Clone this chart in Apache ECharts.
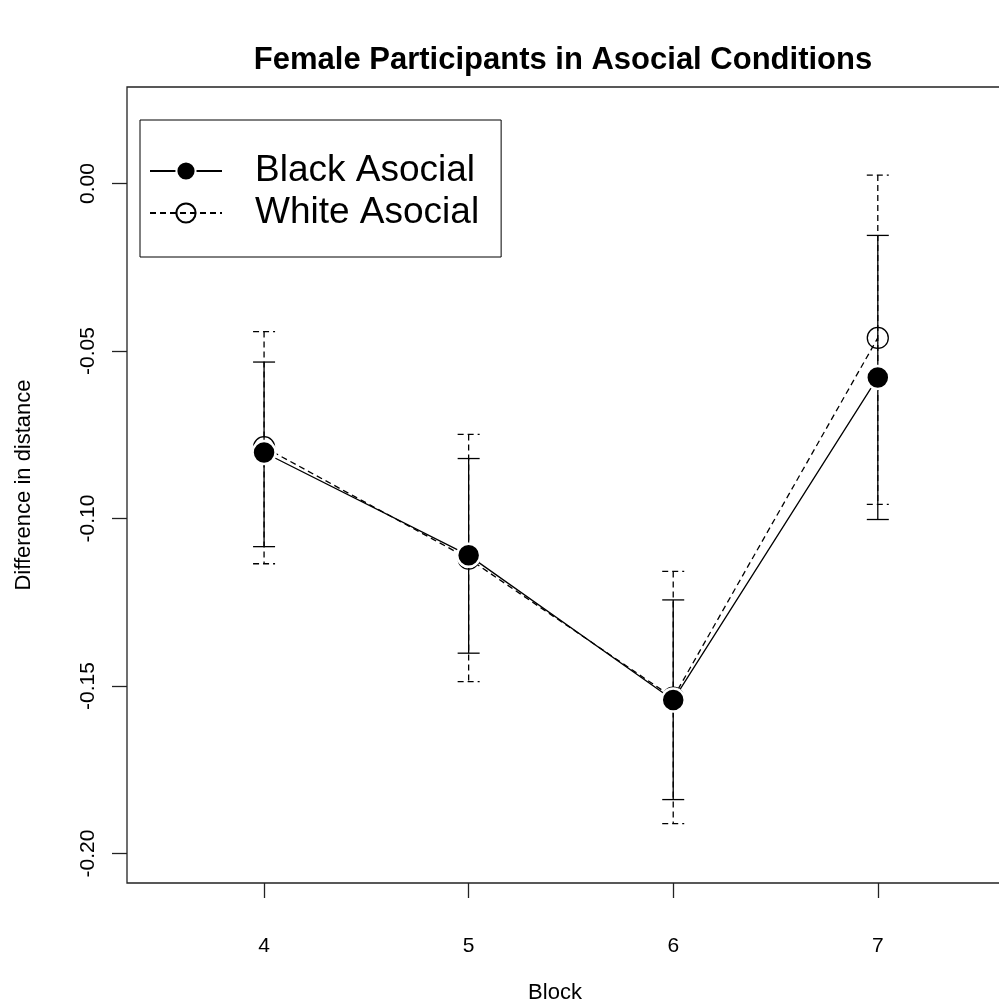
<!DOCTYPE html>
<html>
<head>
<meta charset="utf-8">
<script src="https://cdn.jsdelivr.net/npm/echarts@6/dist/echarts.min.js"></script>
<style>
  html, body { margin: 0; padding: 0; background: #fff; }
  #chart { width: 999px; height: 1007px; }
</style>
</head>
<body>
<div id="chart"></div>
<script>
// 数据
const blocks     = [4, 5, 6, 7]
const blackMean  = [-0.0803, -0.1110, -0.1542, -0.0579]
const blackLow   = [-0.1084, -0.1402, -0.1839, -0.1003]
const blackHigh  = [-0.0533, -0.0821, -0.1243, -0.0155]
const whiteMean  = [-0.0787, -0.1120, -0.1535, -0.0461]
const whiteLow   = [-0.1135, -0.1487, -0.1911, -0.0958]
const whiteHigh  = [-0.0442, -0.0749, -0.1158,  0.0025]
const yTicks     = [-0.20, -0.15, -0.10, -0.05, 0.00]

!function(){

    const font = 'Liberation Sans, Arial, sans-serif'
    let chart  = echarts.init(document.getElementById('chart'))

    // 误差线
    const errorBars = (dash) => (params, api) => {
        let x  = api.value(0)
        let lo = api.coord([x, api.value(1)])
        let hi = api.coord([x, api.value(2)])
        let w  = 11
        let style = { stroke: '#000', lineWidth: 1.3, lineDash: dash }
        return {
            type: 'group',
            children: [
                { type: 'line', shape: { x1: hi[0], y1: hi[1], x2: lo[0], y2: lo[1] }, style },
                { type: 'line', shape: { x1: hi[0] - w, y1: hi[1], x2: hi[0] + w, y2: hi[1] }, style },
                { type: 'line', shape: { x1: lo[0] - w, y1: lo[1], x2: lo[0] + w, y2: lo[1] }, style },
            ]
        }
    }

    let option = {
        animation: false,
        backgroundColor: '#fff',
        textStyle: { fontFamily: font },
        title: [
            {
                text: 'Female Participants in Asocial Conditions',
                left: 563, top: 45, padding: 0, textAlign: 'center',
                textStyle: { fontFamily: font, fontSize: 31, fontWeight: 'bold', color: '#000' }
            },
            {
                text: 'Block',
                left: 555, top: 982, padding: 0, textAlign: 'center',
                textStyle: { fontFamily: font, fontSize: 22, fontWeight: 'normal', color: '#000' }
            }
        ],
        legend: {
            orient: 'vertical',
            left: 140, top: 120,
            padding: [30, 22, 23, 9],
            itemGap: 0,
            itemWidth: 72, itemHeight: 24,
            borderColor: '#000', borderWidth: 1,
            textStyle: { fontFamily: font, fontSize: 37, color: '#000', lineHeight: 42, padding: [0, 0, 0, 28] },
            data: ['Black Asocial', 'White Asocial']
        },
        grid: {
            show: true, left: 127, top: 87, width: 894, height: 796,
            borderColor: '#222', borderWidth: 1.3,
            outerBoundsMode: 'none'
        },
        xAxis: {
            type: 'value', min: 3.33, max: 7.7,
            axisLine: { show: false, onZero: false },
            splitLine: { show: false },
            axisTick: { show: true, length: 15, lineStyle: { color: '#222', width: 1.3 }, customValues: blocks },
            axisLabel: { fontFamily: font, fontSize: 21, color: '#000', margin: 53, customValues: blocks }
        },
        yAxis: {
            type: 'value', min: -0.2088, max: 0.0288,
            name: 'Difference in distance', nameLocation: 'middle', nameGap: 92, nameRotate: 90,
            nameTextStyle: { fontFamily: font, fontSize: 22, color: '#000' },
            axisLine: { show: false, onZero: false },
            splitLine: { show: false },
            axisTick: { show: true, length: 15, lineStyle: { color: '#222', width: 1.3 }, customValues: yTicks },
            axisLabel: {
                fontFamily: font, fontSize: 21, color: '#000', margin: 28, rotate: 90,
                customValues: yTicks, formatter: v => v.toFixed(2)
            }
        },
        series: [
            {
                type: 'custom', name: 'whiteErr', silent: true,
                renderItem: errorBars([6, 4]),
                data: blocks.map((b, i) => [b, whiteLow[i], whiteHigh[i]])
            },
            {
                type: 'custom', name: 'blackErr', silent: true,
                renderItem: errorBars(null),
                data: blocks.map((b, i) => [b, blackLow[i], blackHigh[i]])
            },
            {
                type: 'line', name: 'White Asocial',
                data: blocks.map((b, i) => [b, whiteMean[i]]),
                symbol: 'circle', symbolSize: 21,
                itemStyle: { color: 'rgba(0,0,0,0)', borderColor: '#000', borderWidth: 1.3 },
                lineStyle: { color: '#000', width: 1.3, type: [6, 4] }
            },
            {
                type: 'line', name: 'Black Asocial',
                data: blocks.map((b, i) => [b, blackMean[i]]),
                symbol: 'circle', symbolSize: 23,
                itemStyle: { color: '#000', borderColor: '#fff', borderWidth: 2.5 },
                lineStyle: { color: '#000', width: 1.3 }
            }
        ]
    }

    chart.setOption(option)

}()
</script>
</body>
</html>
